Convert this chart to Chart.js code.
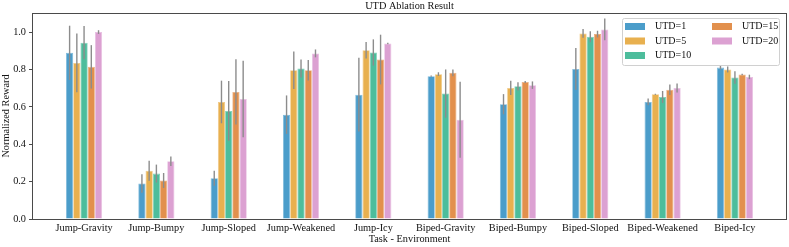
<!DOCTYPE html>
<html>
<head>
<meta charset="utf-8">
<script src="https://cdn.jsdelivr.net/npm/chart.js@4/dist/chart.umd.min.js"></script>
<style>
  html, body { margin: 0; padding: 0; background: #fff; }
  #wrap { width: 789px; height: 247px; }
</style>
</head>
<body>
<div id="wrap"><canvas id="utdChart" width="789" height="247"></canvas></div>
<script>
var tasks = ["Jump-Gravity", "Jump-Bumpy", "Jump-Sloped", "Jump-Weakened", "Jump-Icy",
             "Biped-Gravity", "Biped-Bumpy", "Biped-Sloped", "Biped-Weakened", "Biped-Icy"];
var seriesNames = ["UTD=1", "UTD=5", "UTD=10", "UTD=15", "UTD=20"];

// mean reward per task
var utd1  = [0.889, 0.190, 0.218, 0.558, 0.665, 0.764, 0.614, 0.803, 0.626, 0.810];
var utd5  = [0.835, 0.258, 0.626, 0.796, 0.903, 0.775, 0.701, 0.993, 0.667, 0.800];
var utd10 = [0.943, 0.243, 0.578, 0.805, 0.891, 0.671, 0.710, 0.975, 0.653, 0.757];
var utd15 = [0.814, 0.206, 0.680, 0.796, 0.853, 0.782, 0.733, 0.989, 0.692, 0.773];
var utd20 = [1.000, 0.309, 0.642, 0.886, 0.939, 0.531, 0.716, 1.014, 0.701, 0.760];

// error bar half-length
var err1  = [0.145, 0.050, 0.040, 0.103, 0.197, 0.003, 0.054, 0.112, 0.018, 0.010];
var err5  = [0.157, 0.054, 0.114, 0.100, 0.044, 0.010, 0.038, 0.024, 0.003, 0.016];
var err10 = [0.089, 0.048, 0.160, 0.048, 0.070, 0.129, 0.022, 0.030, 0.032, 0.033];
var err15 = [0.116, 0.040, 0.175, 0.055, 0.133, 0.018, 0.005, 0.018, 0.028, 0.004];
var err20 = [0.010, 0.025, 0.205, 0.021, 0.004, 0.203, 0.020, 0.058, 0.024, 0.012];

var yTicks = [0.0, 0.2, 0.4, 0.6, 0.8, 1.0];

var fills   = ["#4b9dca", "#e8b04f", "#4dbd9c", "#e2904d", "#dca1d2"];
var borders = ["#7db9db", "#f0c985", "#80d0b8", "#ebb083", "#e8c0e2"];

var means = [utd1, utd5, utd10, utd15, utd20];
var errs = [err1, err5, err10, err15, err20];

var datasets = [];
for (var s = 0; s < seriesNames.length; s++) {
	var pts = [];
	for (var i = 0; i < tasks.length; i++) {
		pts.push({x: i, y: means[s][i]});
	}
	datasets.push({
		label: seriesNames[s],
		data: pts,
		errs: errs[s],
		backgroundColor: fills[s],
		borderColor: borders[s],
		borderWidth: 0.8,
		categoryPercentage: 0.5,
		barPercentage: 1.0
	});
}

var serif = "'Liberation Serif', 'DejaVu Serif', serif";
var fontPx = 10.3;
var axisColor = "#4a4a4a";

// error bars, frame, title and the two-column legend
var extras = {
	id: "extras",
	afterDatasetsDraw: function(chart) {
		var ctx = chart.ctx;
		var yScale = chart.scales.y;
		ctx.save();
		ctx.strokeStyle = "#8c8c8c";
		ctx.lineWidth = 1.4;
		chart.data.datasets.forEach(function(ds, di) {
			var meta = chart.getDatasetMeta(di);
			meta.data.forEach(function(bar, i) {
				var v = ds.data[i].y, e = ds.errs[i];
				ctx.beginPath();
				ctx.moveTo(bar.x, yScale.getPixelForValue(v - e));
				ctx.lineTo(bar.x, yScale.getPixelForValue(v + e));
				ctx.stroke();
			});
		});
		ctx.restore();
	},
	afterDraw: function(chart) {
		var ctx = chart.ctx;
		var a = chart.chartArea;
		ctx.save();
		ctx.strokeStyle = axisColor;
		ctx.lineWidth = 1;
		ctx.strokeRect(a.left + 0.5, a.top + 0.5, a.right - a.left - 1, a.bottom - a.top);

		ctx.fillStyle = "#111";
		ctx.font = fontPx + "px " + serif;
		ctx.textAlign = "center";
		ctx.textBaseline = "middle";
		ctx.fillText("UTD Ablation Result", (a.left + a.right) / 2, 6);

		// legend box
		var lx = 622, ly = 18, lw = 157, lh = 47;
		ctx.fillStyle = "rgba(255,255,255,0.85)";
		ctx.strokeStyle = "#d0d0d0";
		ctx.lineWidth = 1;
		ctx.beginPath();
		ctx.roundRect(lx + 0.5, ly + 0.5, lw, lh, 2);
		ctx.fill();
		ctx.stroke();
		ctx.font = "10px " + serif;
		ctx.textAlign = "left";
		for (var s = 0; s < seriesNames.length; s++) {
			var col = Math.floor(s / 3), row = s % 3;
			var px = lx + 3 + col * 87, py = ly + 8 + row * 14.5;
			ctx.fillStyle = fills[s];
			ctx.fillRect(px, py - 3, 20, 7);
			ctx.fillStyle = "#111";
			ctx.fillText(seriesNames[s], px + 30, py + 0.5);
		}
		ctx.restore();
	}
};

new Chart(document.getElementById("utdChart").getContext("2d"), {
	type: "bar",
	data: { datasets: datasets },
	plugins: [extras],
	options: {
		responsive: false,
		animation: false,
		layout: { padding: { top: 13, right: 2, left: 0, bottom: 0 } },
		plugins: {
			legend: { display: false },
			title: { display: false },
			tooltip: { enabled: false }
		},
		scales: {
			x: {
				type: "linear",
				min: -0.72,
				max: 9.72,
				offset: false,
				afterBuildTicks: function(scale) {
					scale.ticks = tasks.map(function(t, i) { return {value: i}; });
				},
				afterFit: function(scale) { scale.height = 28; },
				ticks: {
					autoSkip: false,
					maxRotation: 0,
					padding: 3,
					color: "#111",
					font: { family: serif, size: fontPx },
					callback: function(v) { return tasks[v]; }
				},
				grid: { display: false, drawTicks: false },
				border: { display: false },
				title: {
					display: true,
					text: "Task - Environment",
					color: "#111",
					font: { family: serif, size: fontPx },
					padding: { top: 0, bottom: 2 }
				}
			},
			y: {
				min: 0,
				max: 1.102,
				afterBuildTicks: function(scale) {
					scale.ticks = yTicks.map(function(v) { return {value: v}; });
				},
				afterFit: function(scale) { scale.width = 32; },
				ticks: {
					color: "#111",
					padding: 3,
					font: { family: serif, size: fontPx },
					callback: function(v) { return v.toFixed(1); }
				},
				grid: { display: true, drawOnChartArea: false, drawTicks: true, tickLength: 3, color: axisColor },
				border: { display: false },
				title: {
					display: true,
					text: "Normalized Reward",
					color: "#111",
					font: { family: serif, size: fontPx },
					padding: { top: 0, bottom: 0 }
				}
			}
		}
	}
});
</script>
</body>
</html>
